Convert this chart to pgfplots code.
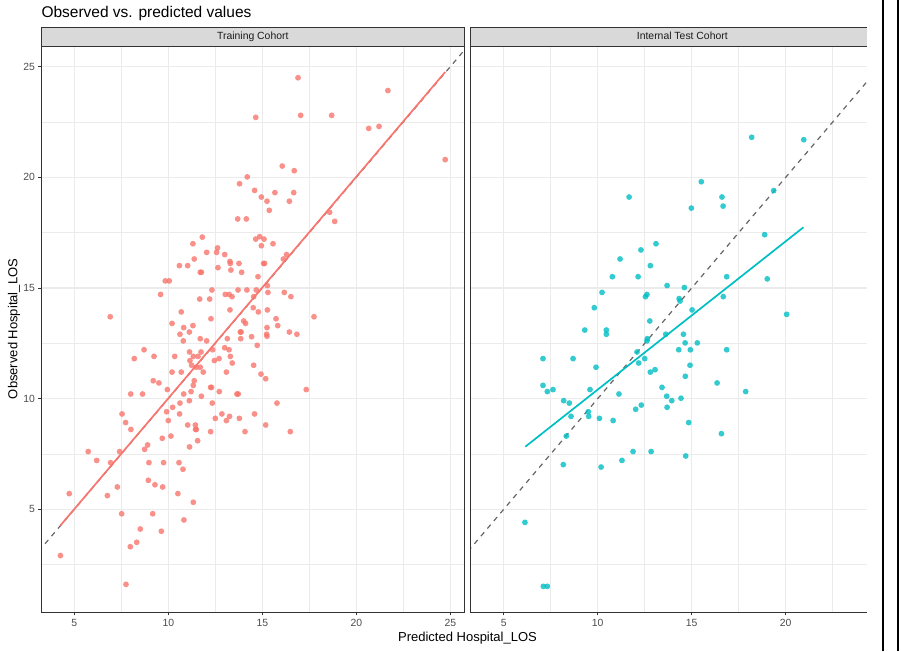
\documentclass[border=0pt]{standalone}
\usepackage{pgfplots}
\pgfplotsset{compat=1.18}
\usepackage{pgfplotstable}
\usepackage{fontspec}
\setmainfont{Liberation Sans}
\definecolor{cred}{HTML}{F8766D}
\definecolor{cteal}{HTML}{00BFC4}
\definecolor{g92}{HTML}{EBEBEB}
\definecolor{g85}{HTML}{D9D9D9}
\definecolor{g20}{HTML}{333333}
\definecolor{g30}{HTML}{4D4D4D}
\definecolor{g40}{HTML}{666666}
\definecolor{g10}{HTML}{1A1A1A}

\pgfplotstableread{
x y
16.90 24.50
21.68 23.92
14.65 22.71
17.04 22.80
18.69 22.80
20.66 22.21
21.21 22.30
24.73 20.80
16.06 20.51
16.70 20.30
14.20 20.02
13.79 19.71
14.59 19.41
15.67 19.31
16.67 19.31
14.95 19.11
15.25 18.92
16.44 18.92
15.37 18.51
18.58 18.42
18.85 18.01
13.69 18.12
14.15 18.12
11.81 17.30
11.31 17.00
14.65 17.21
14.86 17.32
15.09 17.21
15.57 17.00
14.95 16.91
12.62 16.81
12.57 16.61
12.04 16.61
13.00 16.51
16.29 16.51
16.12 16.31
11.38 16.31
13.28 16.20
13.30 16.11
13.76 16.11
15.07 16.11
15.12 16.11
10.59 16.01
11.03 16.01
12.64 15.92
11.70 15.71
11.76 15.71
13.33 15.81
13.90 15.71
14.77 15.51
9.84 15.32
10.05 15.32
15.27 15.11
12.32 14.91
13.71 14.91
14.18 14.91
14.68 14.91
15.30 14.80
16.17 14.80
9.59 14.71
13.03 14.71
13.24 14.71
13.39 14.61
14.54 14.61
16.52 14.61
11.67 14.50
12.20 14.50
14.52 14.11
13.28 14.01
14.79 13.92
15.27 14.01
10.69 13.92
6.91 13.70
12.27 13.61
17.75 13.70
15.73 13.61
10.20 13.40
10.82 13.21
11.31 13.30
14.01 13.51
14.11 13.40
15.25 13.21
15.82 13.30
10.62 12.91
10.80 12.61
11.12 13.01
13.83 13.01
13.87 13.01
13.85 12.71
14.43 12.80
14.73 12.41
15.23 12.91
15.25 12.82
16.44 13.01
16.84 12.91
11.70 12.71
12.04 12.61
13.14 12.71
8.71 12.21
9.24 11.91
8.19 11.81
10.34 11.91
11.13 12.11
11.33 11.91
11.58 11.91
11.74 12.11
12.36 12.21
13.00 12.30
13.23 12.21
13.30 11.91
11.15 11.72
12.45 11.72
12.70 11.81
13.40 11.61
11.24 11.51
11.49 11.42
11.70 11.42
14.54 11.51
10.20 11.20
10.69 11.20
11.86 11.20
13.09 11.20
14.93 11.11
15.18 10.90
9.20 10.81
9.50 10.71
11.38 10.81
11.33 10.60
9.95 10.41
12.25 10.51
12.30 10.51
17.34 10.41
8.00 10.21
8.63 10.21
10.82 10.21
11.21 10.32
12.71 10.32
13.65 10.21
13.72 10.21
11.76 10.11
10.62 9.80
11.12 9.91
12.34 9.80
15.78 9.80
10.23 9.61
9.91 9.41
7.54 9.31
10.60 9.31
12.85 9.31
14.59 9.31
13.26 9.20
12.50 9.11
13.78 9.11
10.00 9.01
13.09 9.01
7.73 8.92
11.03 8.81
11.44 8.81
15.18 8.81
8.01 8.61
11.45 8.61
11.49 8.61
12.25 8.51
14.08 8.51
16.49 8.51
10.14 8.31
9.68 8.21
11.56 8.10
8.90 7.91
8.74 7.71
11.13 7.82
5.74 7.61
7.41 7.61
6.19 7.21
6.93 7.11
8.97 7.11
9.75 7.11
10.57 7.11
10.78 6.81
8.94 6.31
9.29 6.11
7.29 6.01
9.70 6.01
4.73 5.71
10.51 5.71
6.76 5.62
11.33 5.32
7.52 4.80
9.17 4.80
10.83 4.52
8.51 4.11
9.63 4.01
8.32 3.51
7.98 3.31
4.26 2.91
7.75 1.61
}\traindata

\pgfplotstableread{
x y
18.19 21.81
20.96 21.70
15.51 19.80
11.67 19.11
16.61 19.11
19.36 19.40
14.98 18.61
16.67 18.70
18.88 17.41
13.10 17.00
12.30 16.72
11.19 16.31
12.80 16.01
10.78 15.51
12.15 15.51
16.86 15.51
19.02 15.41
13.69 15.11
14.61 15.02
10.23 14.80
12.62 14.71
12.54 14.61
16.68 14.61
14.33 14.52
14.38 14.41
9.82 14.11
15.02 14.01
20.05 13.81
12.77 13.51
9.31 13.10
10.46 13.10
10.46 12.91
13.62 12.91
14.56 12.91
12.64 12.71
12.62 12.61
14.65 12.52
15.30 12.52
14.31 12.21
14.93 12.21
16.86 12.21
12.09 12.11
7.09 11.81
8.69 11.81
12.50 11.81
12.18 11.61
14.91 11.51
9.91 11.42
12.80 11.20
13.05 11.31
14.66 11.01
16.35 10.71
7.09 10.60
13.42 10.51
7.32 10.32
7.62 10.41
9.59 10.41
11.13 10.21
17.87 10.32
13.67 10.11
14.43 10.02
13.94 9.91
8.19 9.91
8.49 9.80
12.32 9.71
12.02 9.52
13.69 9.61
9.50 9.41
9.52 9.20
8.58 9.20
10.09 9.11
10.82 9.01
14.84 8.92
8.33 8.31
16.58 8.42
11.88 7.61
12.84 7.61
11.29 7.21
14.68 7.41
8.17 7.02
10.18 6.91
6.13 4.41
7.11 1.52
7.32 1.52
}\testdata

\pgfplotsset{
  panel/.style={
    scale only axis, height=566pt,
    xmin=3.2447, ymin=0.361, ymax=25.934,
    axis line style={draw=none},
    tick align=outside, major tick length=3.25pt, minor tick length=0pt,
    tick pos=left,
    tick style={color=g20, line width=0.9pt},
    xtick={5,10,15,20,25}, minor xtick={7.5,12.5,17.5,22.5},
    ytick={5,10,15,20,25}, minor ytick={2.5,7.5,12.5,17.5,22.5},
    grid=both,
    major grid style={color=g92, line width=1.2pt},
    minor grid style={color=g92, line width=0.6pt},
    ticklabel style={font=\fontsize{10.4}{12}\selectfont, text=g30},
    /pgf/number format/assume math mode=true,
  },
  pts/.style={only marks, color=#1, mark=*, mark size=2.9pt, mark options={draw=#1, fill=#1, draw opacity=0, fill opacity=0.8}},
}

\begin{document}
\begin{tikzpicture}[x=1pt,y=1pt]
\path[use as bounding box] (0,0) rectangle (901,651);
\fill[white] (0,0) rectangle (901,651);

\begin{axis}[panel, at={(41.3pt,39pt)}, anchor=south west, width=423pt, xmax=25.745,
  xticklabel style={anchor=north, inner sep=0pt, yshift=-3.5pt},
  yticklabel style={anchor=east, inner sep=0pt, xshift=-3pt}]
\addplot[color=g40, line width=1.2pt, dash pattern=on 5pt off 5pt] coordinates {(0,0) (30,30)};
\addplot[pts=cred] table[x=x,y=y] {\traindata};
\addplot[color=cred, line width=1.7pt] coordinates {(4.26,4.27) (24.73,24.76)};
\end{axis}

\begin{axis}[panel, at={(470.7pt,39pt)}, anchor=south west, width=396.3pt, xmax=24.324,
  ytick style={draw=none}, yticklabels={},
  xticklabel style={anchor=north, inner sep=0pt, yshift=-3.5pt}]
\addplot[color=g40, line width=1.2pt, dash pattern=on 5pt off 5pt] coordinates {(0,0) (30,30)};
\addplot[pts=cteal] table[x=x,y=y] {\testdata};
\addplot[color=cteal, line width=1.7pt] coordinates {(6.15,7.83) (20.94,17.74)};
\end{axis}

% panel borders
\draw[g20, line width=0.8pt] (41.3,39) rectangle (464.3,605);
\draw[g20, line width=0.8pt] (867,39) -- (470.7,39) -- (470.7,605) -- (867,605);
% strips
\draw[g20, line width=0.8pt, fill=g85] (41.3,605) rectangle (464.3,623.7);
\fill[g85] (470.7,605) rectangle (867,623.7);
\draw[g20, line width=0.8pt] (867,605) -- (470.7,605) -- (470.7,623.7) -- (867,623.7);
\node[anchor=base, inner sep=0pt, text=g10, font=\fontsize{10.4}{12}\selectfont] at (252.8,611) {Training Cohort};
\node[anchor=base, inner sep=0pt, text=g10, font=\fontsize{10.4}{12}\selectfont] at (682.3,611) {Internal Test Cohort};

% titles
\node[anchor=base west, inner sep=0pt, font=\fontsize{15.5}{18}\selectfont] at (41.3,633.5) {Observed vs. predicted values};
\node[anchor=base, inner sep=0pt, font=\fontsize{13}{15}\selectfont] at (467.5,10) {Predicted Hospital\_LOS};
\node[anchor=base, inner sep=0pt, rotate=90, font=\fontsize{13}{15}\selectfont] at (17.3,322) {Observed Hospital\_LOS};

% black edge lines
\draw[black, line width=1.7pt] (882.8,0) -- (882.8,651);
\draw[black, line width=1.7pt] (898.2,0) -- (898.2,651);
\end{tikzpicture}
\end{document}
